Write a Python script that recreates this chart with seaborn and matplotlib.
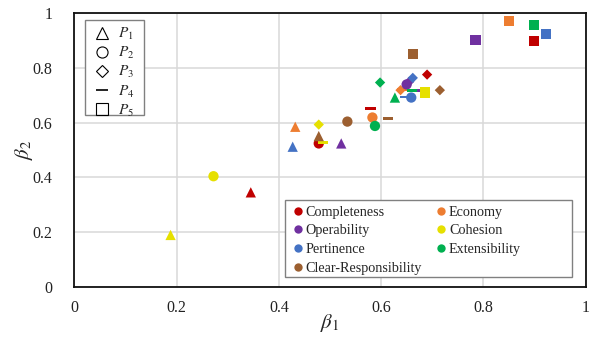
import pandas as pd
import seaborn as sns
import matplotlib.pyplot as plt
from matplotlib.lines import Line2D
from matplotlib.patches import Rectangle

# values, order P1..P5 per criterion
criteria = ["Completeness", "Economy", "Operability", "Cohesion",
            "Pertinence", "Extensibility", "Clear-Responsibility"]
p_names = ["P1", "P2", "P3", "P4", "P5"]

completeness_b1 = [0.345, 0.478, 0.690, 0.579, 0.899]
completeness_b2 = [0.345, 0.524, 0.776, 0.652, 0.900]
economy_b1 = [0.432, 0.583, 0.638, 0.642, 0.850]
economy_b2 = [0.585, 0.619, 0.719, 0.720, 0.971]
operability_b1 = [0.522, 0.650, 0.655, 0.675, 0.785]
operability_b2 = [0.524, 0.740, 0.750, 0.719, 0.903]
cohesion_b1 = [0.188, 0.272, 0.478, 0.486, 0.686]
cohesion_b2 = [0.189, 0.404, 0.593, 0.528, 0.710]
pertinence_b1 = [0.427, 0.659, 0.662, 0.647, 0.923]
pertinence_b2 = [0.512, 0.692, 0.764, 0.694, 0.924]
extensibility_b1 = [0.627, 0.588, 0.598, 0.660, 0.899]
extensibility_b2 = [0.692, 0.588, 0.747, 0.719, 0.958]
clear_b1 = [0.478, 0.534, 0.715, 0.613, 0.663]
clear_b2 = [0.551, 0.604, 0.719, 0.615, 0.852]

colors = ["#C00000", "#ED7D31", "#7030A0", "#E6E000",
          "#4472C4", "#00B050", "#9C5F30"]

b1_all = [completeness_b1, economy_b1, operability_b1, cohesion_b1,
          pertinence_b1, extensibility_b1, clear_b1]
b2_all = [completeness_b2, economy_b2, operability_b2, cohesion_b2,
          pertinence_b2, extensibility_b2, clear_b2]

rows = []
for c, xs, ys in zip(criteria, b1_all, b2_all):
    for p, x, y in zip(p_names, xs, ys):
        rows.append({"criterion": c, "P": p, "beta1": x, "beta2": y})
df = pd.DataFrame(rows)

sns.set_style("white")
plt.rcParams["font.family"] = ["Liberation Serif", "DejaVu Serif"]
plt.rcParams["mathtext.fontset"] = "stix"

# filled marker shapes (dash drawn as a thin bar so seaborn can mix it)
diamond = [(0, 1), (1, 0), (0, -1), (-1, 0)]
dash = [(-1, -0.28), (1, -0.28), (1, 0.28), (-1, 0.28)]
markers = {"P1": "^", "P2": "o", "P3": diamond, "P4": dash, "P5": "s"}
palette = dict(zip(criteria, colors))

fig = plt.figure(figsize=(5.94, 3.37), dpi=100)
ax = fig.add_axes([0.1254, 0.1496, 0.8603, 0.8106])

sns.scatterplot(data=df, x="beta1", y="beta2", hue="criterion", style="P",
                markers=markers, palette=palette, s=55, linewidth=0,
                legend=False, ax=ax, zorder=3)

ax.set_xlim(0, 1)
ax.set_ylim(0, 1)
ax.set_xticks([0, 0.2, 0.4, 0.6, 0.8, 1])
ax.set_yticks([0, 0.2, 0.4, 0.6, 0.8, 1])
ax.set_xticklabels(["0", "0.2", "0.4", "0.6", "0.8", "1"])
ax.set_yticklabels(["0", "0.2", "0.4", "0.6", "0.8", "1"])
ax.tick_params(axis="both", length=0, labelsize=11.5, colors="#222222")
ax.tick_params(axis="x", pad=10)
ax.tick_params(axis="y", pad=16)
ax.grid(True, color="#d9d9d9", linewidth=1.1)
ax.set_axisbelow(True)
for sp in ax.spines.values():
    sp.set_color("#111111")
    sp.set_linewidth(1.3)

ax.set_xlabel(r"$\beta_1$", fontsize=15, labelpad=-3)
ax.set_ylabel(r"$\beta_2$", fontsize=15, labelpad=-2)

# legend boxes drawn separately so their size matches the reference
for (x0, y0, w, h) in [(0.0205, 0.628, 0.1155, 0.348),
                       (0.412, 0.035, 0.5616, 0.282)]:
    ax.add_patch(Rectangle((x0, y0), w, h, transform=ax.transAxes,
                           facecolor="white", edgecolor="#808080",
                           linewidth=1.0, zorder=4, clip_on=False))

# shape legend
shape_handles = [
    Line2D([], [], marker="^", linestyle="none", markersize=8,
           markerfacecolor="none", markeredgecolor="black", markeredgewidth=0.8),
    Line2D([], [], marker="o", linestyle="none", markersize=8,
           markerfacecolor="none", markeredgecolor="black", markeredgewidth=0.8),
    Line2D([], [], marker="D", linestyle="none", markersize=6,
           markerfacecolor="none", markeredgecolor="black", markeredgewidth=0.8),
    Line2D([], [], marker="_", linestyle="none", markersize=8,
           markeredgecolor="black", markeredgewidth=1.2),
    Line2D([], [], marker="s", linestyle="none", markersize=8,
           markerfacecolor="none", markeredgecolor="black", markeredgewidth=0.8),
]
shape_labels = [r"$P_1$", r"$P_2$", r"$P_3$", r"$P_4$", r"$P_5$"]
leg1 = ax.legend(shape_handles, shape_labels, loc="upper left",
                 bbox_to_anchor=(0.02, 0.976), borderaxespad=0, fontsize=11,
                 frameon=False, handletextpad=0.3, labelspacing=0.2,
                 borderpad=0.4, handlelength=1.5)
leg1.set_zorder(5)
ax.add_artist(leg1)

# criterion legend, filled row by row like the reference
order = [0, 2, 4, 6, 1, 3, 5]
crit_handles = [Line2D([], [], marker="o", linestyle="none", markersize=6,
                       markerfacecolor=colors[i], markeredgewidth=0)
                for i in order]
crit_labels = [criteria[i] for i in order]
leg2 = ax.legend(crit_handles, crit_labels, loc="upper left",
                 bbox_to_anchor=(0.412, 0.317), borderaxespad=0, ncol=2,
                 fontsize=10.2, frameon=False, handletextpad=0.05,
                 labelspacing=0.4, columnspacing=0.85, borderpad=0.4,
                 handlelength=1.0)
leg2.set_zorder(5)

fig.savefig("out.png", dpi=100)
